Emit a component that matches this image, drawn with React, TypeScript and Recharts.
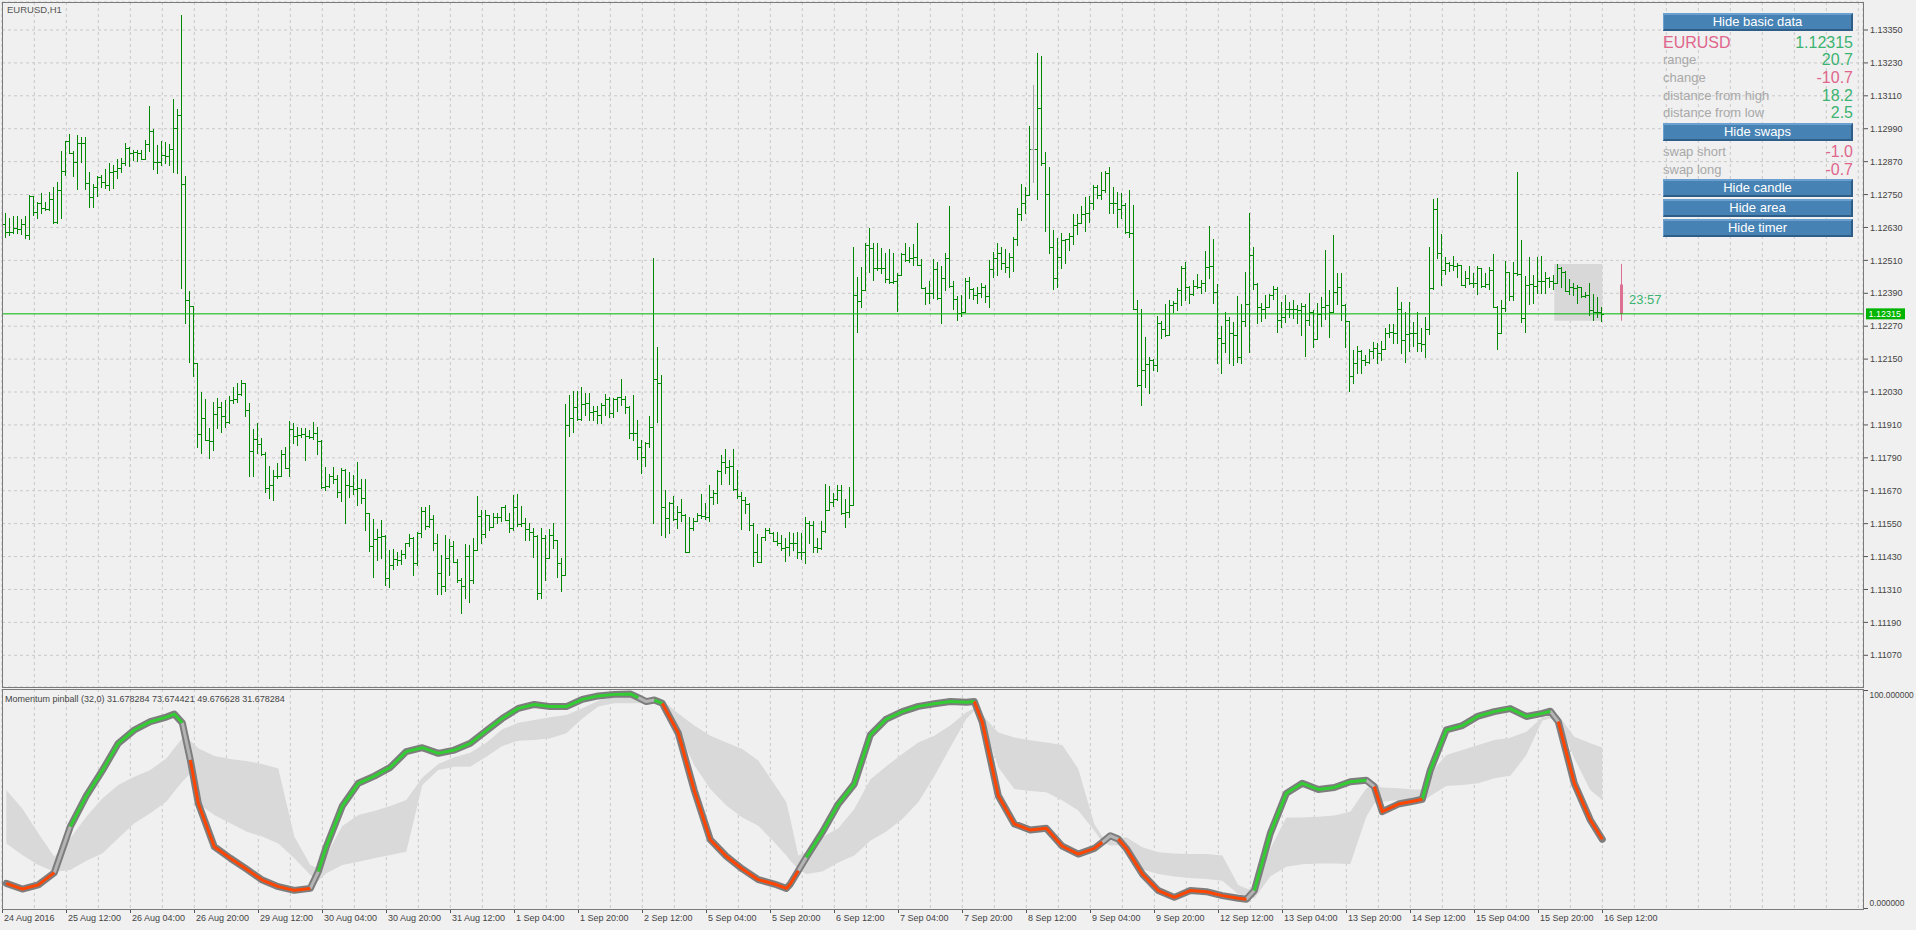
import React from 'react';
import {
  ComposedChart,
  Bar,
  Line,
  Area,
  XAxis,
  YAxis,
  CartesianGrid,
  ReferenceLine,
  ReferenceArea,
} from 'recharts';

// ---------------- DATA ----------------
const symbolTitle = 'EURUSD,H1';
const firstOpen = 1.12642;

const closes = [
  1.12615, 1.12613, 1.12627, 1.12624, 1.12642, 1.12603, 1.12743, 1.12688, 1.12718, 1.127,
  1.12696, 1.12733, 1.1265, 1.12767, 1.12837, 1.12946, 1.12901, 1.1287, 1.12937, 1.12939,
  1.12791, 1.1274, 1.12777, 1.12813, 1.12794, 1.12785, 1.12833, 1.12837, 1.12846, 1.12864,
  1.12919, 1.12903, 1.12906, 1.12901, 1.12879, 1.12933, 1.12982, 1.1287, 1.12867, 1.12895,
  1.12891, 1.12915, 1.12992, 1.1304, 1.12788, 1.12366, 1.12344, 1.12135, 1.11878, 1.11935,
  1.11856, 1.1185, 1.1195, 1.11975, 1.11941, 1.11919, 1.12001, 1.12004, 1.12023, 1.12062,
  1.11965, 1.11816, 1.11858, 1.11841, 1.11805, 1.1168, 1.11691, 1.11722, 1.11725, 1.11805,
  1.11752, 1.11895, 1.11868, 1.11874, 1.11877, 1.1187, 1.11865, 1.1188, 1.11853, 1.11685,
  1.11688, 1.11722, 1.11712, 1.11665, 1.11746, 1.11691, 1.11689, 1.11677, 1.11679, 1.11643,
  1.11588, 1.11469, 1.11493, 1.11503, 1.11506, 1.11351, 1.114, 1.1142, 1.11418, 1.1144,
  1.11479, 1.11497, 1.11406, 1.11515, 1.11597, 1.11542, 1.11566, 1.11479, 1.11369, 1.11323,
  1.11424, 1.11469, 1.11412, 1.11343, 1.11321, 1.11433, 1.11345, 1.11455, 1.11578, 1.11513,
  1.11582, 1.11539, 1.11576, 1.11573, 1.1161, 1.11564, 1.11533, 1.11612, 1.11549, 1.11554,
  1.1153, 1.11518, 1.11506, 1.11296, 1.11497, 1.11424, 1.11509, 1.11491, 1.11406, 1.11363,
  1.1191, 1.11934, 1.11974, 1.11931, 1.11987, 1.11989, 1.11956, 1.11959, 1.11947, 1.11983,
  1.12004, 1.11955, 1.12004, 1.12013, 1.12004, 1.11977, 1.1188, 1.11882, 1.11829, 1.11792,
  1.11843, 1.11901, 1.12076, 1.12062, 1.1161, 1.1157, 1.11624, 1.11566, 1.11594, 1.11582,
  1.11448, 1.11533, 1.11561, 1.11582, 1.11578, 1.11573, 1.11646, 1.11661, 1.11743, 1.11773,
  1.11758, 1.1176, 1.11675, 1.11651, 1.11637, 1.11621, 1.11545, 1.11445, 1.11412, 1.115,
  1.11527, 1.11517, 1.11485, 1.11479, 1.1146, 1.11466, 1.11479, 1.11481, 1.11448, 1.11445,
  1.11554, 1.11545, 1.11466, 1.1146, 1.11525, 1.116, 1.1163, 1.11639, 1.11673, 1.1159,
  1.11594, 1.11618, 1.12384, 1.12363, 1.12402, 1.12566, 1.12554, 1.12481, 1.12483, 1.12481,
  1.12441, 1.12432, 1.12435, 1.12457, 1.12533, 1.12511, 1.12517, 1.12521, 1.12493, 1.12408,
  1.12392, 1.1239, 1.12477, 1.12372, 1.12444, 1.12517, 1.12417, 1.12368, 1.12317, 1.1232,
  1.12436, 1.12405, 1.12384, 1.1239, 1.12414, 1.1238, 1.12478, 1.12518, 1.12536, 1.125,
  1.12485, 1.12521, 1.12587, 1.1268, 1.1272, 1.12749, 1.12915, 1.12915, 1.13064, 1.12866,
  1.12752, 1.12558, 1.12445, 1.12521, 1.12584, 1.12587, 1.12599, 1.12639, 1.12645, 1.12679,
  1.12682, 1.12718, 1.12779, 1.12749, 1.12767, 1.12828, 1.12718, 1.1272, 1.12696, 1.12712,
  1.12615, 1.12609, 1.12332, 1.12056, 1.12111, 1.12132, 1.12147, 1.12129, 1.12281, 1.12259,
  1.12238, 1.12348, 1.12356, 1.12402, 1.12481, 1.12414, 1.12388, 1.12417, 1.12412, 1.12426,
  1.12487, 1.1249, 1.12396, 1.12226, 1.12208, 1.12293, 1.12247, 1.12238, 1.12159, 1.1229,
  1.12351, 1.1253, 1.12424, 1.12341, 1.12332, 1.12341, 1.12384, 1.12405, 1.12293, 1.12305,
  1.12332, 1.12334, 1.12332, 1.12329, 1.12344, 1.12293, 1.1232, 1.12222, 1.12315, 1.12341,
  1.12348, 1.12323, 1.12396, 1.12412, 1.12348, 1.1229, 1.12089, 1.12135, 1.12178, 1.12147,
  1.12141, 1.12178, 1.1219, 1.12172, 1.12186, 1.12247, 1.1225, 1.12244, 1.12332, 1.1222,
  1.12242, 1.12244, 1.12247, 1.1221, 1.12205, 1.12259, 1.12408, 1.12696, 1.12538, 1.12475,
  1.12499, 1.12493, 1.1249, 1.12493, 1.1242, 1.12445, 1.12426, 1.12429, 1.12481, 1.12417,
  1.12424, 1.12475, 1.12339, 1.12244, 1.12335, 1.12469, 1.1238, 1.12465, 1.12461, 1.12299,
  1.1242, 1.12424, 1.12417, 1.12436, 1.12433, 1.12445, 1.12436, 1.12426, 1.12481, 1.12469,
  1.124, 1.12412, 1.1241, 1.12412, 1.1238, 1.12383, 1.12329, 1.1232, 1.12323, 1.12315,
];

const highs = [
  1.12682, 1.12664, 1.1267, 1.12672, 1.1266, 1.12672, 1.12749, 1.12743, 1.12724, 1.12757,
  1.12724, 1.12761, 1.12779, 1.12795, 1.12909, 1.12946, 1.1297, 1.12907, 1.12967, 1.12959,
  1.12961, 1.12834, 1.12788, 1.12816, 1.12822, 1.12842, 1.12864, 1.12858, 1.12879, 1.12882,
  1.12937, 1.12925, 1.12913, 1.12913, 1.12913, 1.12949, 1.13073, 1.12988, 1.12931, 1.12946,
  1.12943, 1.12935, 1.13099, 1.13062, 1.13405, 1.12818, 1.12399, 1.12344, 1.12135, 1.12029,
  1.12005, 1.11898, 1.11995, 1.12008, 1.11995, 1.12001, 1.12014, 1.12048, 1.12062, 1.12074,
  1.12062, 1.11989, 1.11895, 1.11916, 1.11862, 1.1181, 1.11759, 1.11746, 1.11771, 1.11817,
  1.11831, 1.11923, 1.11916, 1.11904, 1.11898, 1.11898, 1.1189, 1.11919, 1.11902, 1.11855,
  1.11758, 1.11731, 1.11758, 1.11728, 1.11752, 1.1175, 1.1174, 1.11728, 1.11773, 1.11712,
  1.11712, 1.11588, 1.11566, 1.1153, 1.11564, 1.11509, 1.11455, 1.11457, 1.11448, 1.11455,
  1.11479, 1.11513, 1.11501, 1.11521, 1.11612, 1.1161, 1.11618, 1.11582, 1.11513, 1.11436,
  1.11509, 1.11493, 1.11485, 1.1142, 1.11351, 1.11476, 1.11473, 1.11497, 1.11651, 1.116,
  1.11598, 1.11582, 1.11588, 1.11588, 1.11612, 1.11618, 1.11588, 1.11655, 1.11659, 1.11615,
  1.1157, 1.11552, 1.11533, 1.11509, 1.11533, 1.11509, 1.1153, 1.11552, 1.11491, 1.11424,
  1.11987, 1.12019, 1.12032, 1.12032, 1.1205, 1.12026, 1.12026, 1.11979, 1.11979, 1.11989,
  1.12023, 1.12013, 1.12007, 1.12013, 1.12077, 1.12016, 1.11979, 1.12019, 1.11928, 1.11855,
  1.11849, 1.11943, 1.12517, 1.12195, 1.12092, 1.11673, 1.1163, 1.11651, 1.11615, 1.11639,
  1.11585, 1.11576, 1.1157, 1.11588, 1.11658, 1.11627, 1.11691, 1.11673, 1.11746, 1.11801,
  1.11821, 1.11782, 1.11821, 1.11746, 1.11667, 1.11649, 1.11624, 1.11551, 1.11513, 1.11503,
  1.11533, 1.11533, 1.11521, 1.11521, 1.11509, 1.11497, 1.11521, 1.11515, 1.11521, 1.11515,
  1.11576, 1.11561, 1.11558, 1.11497, 1.11561, 1.11695, 1.11688, 1.11661, 1.11691, 1.11691,
  1.11639, 1.11683, 1.1256, 1.12451, 1.12487, 1.12574, 1.12627, 1.12572, 1.12574, 1.12554,
  1.12536, 1.1255, 1.12536, 1.12465, 1.12536, 1.12574, 1.1256, 1.1257, 1.12647, 1.12514,
  1.12412, 1.12436, 1.12514, 1.12505, 1.12489, 1.12538, 1.12708, 1.12436, 1.1238, 1.12384,
  1.12445, 1.12448, 1.12408, 1.12414, 1.12426, 1.1242, 1.12512, 1.12542, 1.12575, 1.1256,
  1.1255, 1.12536, 1.12597, 1.127, 1.12789, 1.12779, 1.13, 1.1315, 1.13265, 1.13255,
  1.12906, 1.12849, 1.12621, 1.12591, 1.12611, 1.12587, 1.12611, 1.12679, 1.12679, 1.12708,
  1.1274, 1.12745, 1.12785, 1.12785, 1.12834, 1.12836, 1.12852, 1.12779, 1.12761, 1.12757,
  1.12718, 1.12767, 1.12712, 1.12366, 1.12332, 1.12232, 1.12159, 1.1215, 1.12308, 1.1229,
  1.12351, 1.12366, 1.12363, 1.12408, 1.1249, 1.12505, 1.12417, 1.12439, 1.12461, 1.12439,
  1.12546, 1.12636, 1.12587, 1.12424, 1.12271, 1.12323, 1.12303, 1.12287, 1.1238, 1.12351,
  1.12469, 1.12684, 1.12558, 1.12429, 1.12354, 1.12384, 1.12388, 1.12417, 1.12412, 1.1236,
  1.12384, 1.1236, 1.12366, 1.12348, 1.12354, 1.12351, 1.12392, 1.12329, 1.12356, 1.12378,
  1.12548, 1.12402, 1.12603, 1.12465, 1.12465, 1.12351, 1.12287, 1.12184, 1.12196, 1.12184,
  1.12165, 1.12186, 1.12214, 1.12208, 1.12217, 1.12262, 1.12278, 1.12278, 1.12414, 1.1236,
  1.1232, 1.1236, 1.12287, 1.1232, 1.12262, 1.12305, 1.12558, 1.12733, 1.12736, 1.12606,
  1.12521, 1.12505, 1.12526, 1.12499, 1.12493, 1.12473, 1.1249, 1.12463, 1.1249, 1.12481,
  1.12465, 1.12485, 1.12533, 1.12344, 1.12366, 1.12509, 1.1242, 1.12505, 1.12834, 1.12584,
  1.12453, 1.12521, 1.12457, 1.12521, 1.12526, 1.12469, 1.12451, 1.12457, 1.12497, 1.12487,
  1.12473, 1.12441, 1.12426, 1.1242, 1.12414, 1.12396, 1.12426, 1.12388, 1.12376, 1.12339,
];

const lows = [
  1.12597, 1.12603, 1.12611, 1.12609, 1.12607, 1.12593, 1.12587, 1.12676, 1.12664, 1.12684,
  1.12692, 1.12694, 1.12648, 1.12648, 1.12664, 1.12822, 1.12901, 1.12818, 1.12769, 1.1287,
  1.12769, 1.12706, 1.12706, 1.12745, 1.12779, 1.12773, 1.12767, 1.12773, 1.12809, 1.12834,
  1.12858, 1.12854, 1.12876, 1.12874, 1.12879, 1.12879, 1.12907, 1.12842, 1.12828, 1.12858,
  1.12864, 1.12858, 1.12834, 1.1283, 1.12408, 1.12283, 1.12141, 1.12089, 1.11831, 1.11807,
  1.11856, 1.11789, 1.11819, 1.11898, 1.11886, 1.11902, 1.11916, 1.11989, 1.11995, 1.1202,
  1.11941, 1.11722, 1.11725, 1.11807, 1.11801, 1.11666, 1.11644, 1.11636, 1.11716, 1.11734,
  1.11752, 1.11722, 1.11844, 1.11837, 1.11865, 1.11783, 1.11862, 1.11858, 1.11805, 1.11679,
  1.11673, 1.11683, 1.11698, 1.11646, 1.11634, 1.11552, 1.11649, 1.11659, 1.11619, 1.11625,
  1.11527, 1.11452, 1.11357, 1.11416, 1.11424, 1.11327, 1.11318, 1.11384, 1.114, 1.11403,
  1.11424, 1.11467, 1.11363, 1.114, 1.11503, 1.1153, 1.11537, 1.11455, 1.11294, 1.11294,
  1.11303, 1.11363, 1.11412, 1.11339, 1.11226, 1.11278, 1.11266, 1.11333, 1.11455, 1.11481,
  1.11503, 1.11527, 1.11537, 1.11552, 1.11558, 1.11564, 1.11518, 1.11527, 1.1154, 1.11542,
  1.11489, 1.11491, 1.1143, 1.11275, 1.11278, 1.11345, 1.11448, 1.11461, 1.11357, 1.11303,
  1.11391, 1.1187, 1.11886, 1.11928, 1.11928, 1.11947, 1.11928, 1.11928, 1.11916, 1.11916,
  1.11947, 1.1194, 1.1194, 1.11959, 1.11983, 1.11955, 1.11861, 1.11855, 1.11785, 1.11736,
  1.11762, 1.11831, 1.11551, 1.11922, 1.11509, 1.115, 1.11517, 1.11564, 1.11533, 1.11558,
  1.11448, 1.11517, 1.11527, 1.11561, 1.1157, 1.11566, 1.11558, 1.11622, 1.11624, 1.11695,
  1.11736, 1.11695, 1.11673, 1.11643, 1.1153, 1.1159, 1.11527, 1.11394, 1.11412, 1.11412,
  1.11491, 1.11515, 1.11485, 1.11473, 1.11454, 1.11415, 1.11436, 1.11454, 1.11424, 1.1142,
  1.11406, 1.11479, 1.11448, 1.11446, 1.11457, 1.11521, 1.11606, 1.11615, 1.11636, 1.11585,
  1.11539, 1.11576, 1.11639, 1.1225, 1.12341, 1.12404, 1.12469, 1.12438, 1.12475, 1.12465,
  1.12432, 1.12429, 1.12429, 1.12327, 1.12457, 1.12509, 1.12505, 1.12493, 1.12493, 1.12408,
  1.12351, 1.12356, 1.12372, 1.12368, 1.12283, 1.12402, 1.12414, 1.12331, 1.12293, 1.12308,
  1.12356, 1.12372, 1.12368, 1.12354, 1.12378, 1.1236, 1.12339, 1.12451, 1.12457, 1.12478,
  1.12469, 1.12448, 1.12473, 1.12566, 1.12657, 1.12682, 1.12749, 1.12797, 1.12733, 1.12858,
  1.12618, 1.12536, 1.12405, 1.12412, 1.12481, 1.12499, 1.12548, 1.1257, 1.12606, 1.12645,
  1.12618, 1.12651, 1.12696, 1.12736, 1.12733, 1.12761, 1.12682, 1.12684, 1.12631, 1.12663,
  1.12609, 1.12594, 1.12332, 1.12052, 1.11983, 1.12048, 1.12028, 1.12111, 1.12105, 1.12226,
  1.12234, 1.12281, 1.1232, 1.1233, 1.12348, 1.12366, 1.12354, 1.12384, 1.12408, 1.1239,
  1.124, 1.12445, 1.12354, 1.12137, 1.12101, 1.12177, 1.12137, 1.12129, 1.12141, 1.12135,
  1.12271, 1.12177, 1.12405, 1.12283, 1.1229, 1.12299, 1.12341, 1.12368, 1.1225, 1.12266,
  1.12287, 1.12305, 1.12299, 1.12281, 1.12238, 1.12162, 1.12275, 1.12193, 1.12226, 1.12271,
  1.12295, 1.12232, 1.12354, 1.12351, 1.12293, 1.12193, 1.12035, 1.12062, 1.12101, 1.12099,
  1.12129, 1.12135, 1.12153, 1.12135, 1.12145, 1.1219, 1.1223, 1.12208, 1.1221, 1.12171,
  1.12141, 1.12181, 1.12196, 1.12178, 1.12178, 1.12157, 1.12242, 1.12405, 1.12518, 1.1242,
  1.1246, 1.12473, 1.12475, 1.12451, 1.1242, 1.12414, 1.12424, 1.12414, 1.12388, 1.12414,
  1.12414, 1.12405, 1.12339, 1.12186, 1.12269, 1.12327, 1.12366, 1.12366, 1.12457, 1.12287,
  1.1225, 1.12351, 1.12356, 1.1239, 1.12392, 1.1239, 1.12414, 1.12405, 1.12436, 1.12412,
  1.124, 1.12388, 1.12384, 1.12356, 1.12378, 1.12378, 1.12311, 1.12293, 1.12305, 1.1229,
];

// daily candle (open, high, low, close) and today's first bar
const dayOHLC = [1.12422, 1.12497, 1.1229, 1.12315];
const dayStartBar = 387;
const timerText = '23:57';

const priceTicks = [
  1.1107, 1.1119, 1.1131, 1.1143, 1.1155, 1.1167, 1.1179, 1.1191, 1.1203, 1.1215,
  1.1227, 1.1239, 1.1251, 1.1263, 1.1275, 1.1287, 1.1299, 1.1311, 1.1323, 1.1335,
];

const timeLabels = [
  '24 Aug 2016', '25 Aug 12:00', '26 Aug 04:00', '26 Aug 20:00', '29 Aug 12:00',
  '30 Aug 04:00', '30 Aug 20:00', '31 Aug 12:00', '1 Sep 04:00', '1 Sep 20:00',
  '2 Sep 12:00', '5 Sep 04:00', '5 Sep 20:00', '6 Sep 12:00', '7 Sep 04:00',
  '7 Sep 20:00', '8 Sep 12:00', '9 Sep 04:00', '9 Sep 20:00', '12 Sep 12:00',
  '13 Sep 04:00', '13 Sep 20:00', '14 Sep 12:00', '15 Sep 04:00', '15 Sep 20:00',
  '16 Sep 12:00',
];

// indicator: sampled bar indices, main line, band, trend state per segment
const indBars = [
  0, 4, 8, 12, 16, 20, 24, 28, 32, 36,
  40, 42, 44, 46, 48, 52, 56, 60, 64, 68,
  72, 76, 78, 80, 84, 88, 92, 96, 100, 104,
  108, 112, 116, 120, 124, 128, 132, 136, 140, 144,
  148, 152, 156, 158, 160, 162, 164, 168, 172, 176,
  180, 184, 188, 192, 195, 196, 198, 200, 204, 208,
  212, 216, 220, 224, 228, 232, 236, 240, 242, 244,
  248, 252, 256, 260, 264, 268, 272, 274, 276, 278,
  280, 284, 288, 292, 296, 300, 304, 308, 310, 312,
  316, 320, 324, 328, 332, 336, 340, 342, 344, 348,
  352, 354, 356, 360, 364, 368, 372, 376, 380, 384,
  386, 388, 392, 396, 399,
];

const mainVals = [
  11.5, 8.9, 10.8, 16.4, 37.5, 51.5, 63.1, 75.6, 81.7, 85.5,
  87.6, 89.0, 85.0, 68.0, 48.1, 28.3, 23.0, 18.1, 13.0, 10.0,
  8.3, 9.2, 16.9, 28.3, 46.9, 57.3, 60.6, 64.6, 71.8, 73.6,
  71.0, 72.5, 75.6, 81.4, 87.0, 91.6, 93.4, 92.4, 92.4, 95.7,
  97.3, 98.0, 98.2, 96.5, 94.7, 95.4, 93.9, 80.2, 54.0, 31.5,
  23.9, 18.1, 13.2, 11.2, 9.2, 11.2, 17.3, 23.4, 34.9, 47.8,
  57.0, 79.4, 86.7, 90.1, 92.5, 93.7, 94.7, 94.4, 94.7, 85.2,
  51.6, 38.7, 35.9, 36.7, 28.5, 24.9, 27.5, 30.3, 33.3, 31.8,
  27.5, 15.8, 8.2, 5.1, 8.2, 7.7, 5.9, 4.7, 4.2, 8.2,
  34.4, 52.7, 57.3, 54.5, 55.4, 58.0, 58.7, 55.8, 44.3, 47.8,
  49.2, 50.0, 63.3, 81.7, 83.7, 88.1, 90.1, 91.5, 87.9, 89.3,
  90.3, 85.5, 57.3, 40.5, 31.678284,
];

const bandUpper = [
  54.2, 45.8, 34.4, 23.7, 32.1, 42.0, 50.4, 56.5, 60.3, 63.4,
  68.7, 73.3, 77.9, 76.8, 73.3, 69.8, 68.4, 67.5, 66.1, 64.1,
  32.9, 19.9, 18.4, 24.5, 37.8, 42.8, 44.6, 46.9, 49.7, 60.0,
  66.1, 69.2, 71.3, 75.9, 82.0, 85.0, 86.3, 87.5, 88.6, 91.6,
  95.1, 96.9, 97.3, 97.0, 96.2, 95.7, 95.1, 89.3, 83.7, 79.1,
  76.0, 73.0, 67.7, 57.0, 48.6, 41.0, 24.2, 25.7, 32.6, 36.7,
  45.5, 59.0, 65.1, 70.7, 76.0, 79.1, 83.7, 89.8, 91.6, 88.6,
  80.6, 78.3, 77.0, 76.0, 74.8, 63.9, 38.7, 33.0, 31.0, 32.1,
  32.6, 28.0, 25.7, 25.2, 24.9, 24.9, 24.2, 10.7, 9.2, 8.5,
  27.5, 41.7, 41.7, 42.0, 42.6, 44.3, 55.0, 56.5, 55.4, 55.0,
  54.5, 54.5, 61.9, 70.2, 72.5, 74.8, 77.1, 78.2, 80.9, 87.5,
  88.1, 88.6, 78.6, 75.6, 73.674421,
];

const bandLower = [
  29.8, 24.5, 19.9, 16.8, 17.6, 21.9, 25.2, 32.1, 39.0, 43.6,
  48.9, 53.5, 58.0, 61.9, 48.1, 42.8, 39.0, 35.2, 32.9, 29.8,
  23.0, 15.3, 12.7, 16.1, 19.9, 21.4, 23.0, 24.5, 26.0, 56.5,
  63.4, 64.9, 64.9, 69.5, 74.4, 76.8, 77.1, 77.9, 80.2, 87.0,
  92.4, 93.9, 93.9, 93.9, 93.9, 93.9, 93.9, 80.9, 65.6, 54.7,
  47.1, 41.7, 37.9, 30.3, 24.2, 21.9, 18.1, 15.8, 16.9, 21.1,
  24.2, 31.0, 35.2, 41.0, 48.6, 60.5, 73.8, 86.7, 90.5, 86.4,
  64.6, 54.7, 53.8, 53.2, 49.4, 44.8, 35.6, 30.6, 28.8, 28.9,
  26.5, 17.8, 15.8, 14.7, 14.0, 13.5, 12.7, 6.6, 5.4, 4.6,
  14.6, 19.1, 20.2, 20.6, 20.6, 20.4, 42.0, 48.1, 48.9, 49.7,
  48.9, 48.9, 51.5, 56.1, 56.5, 57.3, 59.6, 60.7, 70.2, 86.0,
  87.0, 86.3, 68.7, 54.2, 49.676628,
];

// 1 = rising (green), -1 = falling (red), 0 = neutral (grey); one per segment
const trend = [
  -1, -1, -1, 0, 1, 1, 1, 1, 1, 1,
  1, 1, 0, -1, -1, -1, -1, -1, -1, -1,
  -1, 0, 1, 1, 1, 1, 1, 1, 1, 1,
  1, 1, 1, 1, 1, 1, 1, 1, 1, 1,
  1, 1, 1, 0, 0, 1, -1, -1, -1, -1,
  -1, -1, -1, -1, -1, -1, 0, 1, 1, 1,
  1, 1, 1, 1, 1, 1, 1, 1, -1, -1,
  -1, -1, -1, -1, -1, -1, -1, 0, 0, -1,
  -1, -1, -1, -1, -1, -1, -1, -1, 0, 1,
  1, 1, 1, 1, 1, 1, 0, -1, -1, -1,
  -1, 1, 1, 1, 1, 1, 1, 1, 1, 1,
  0, -1, -1, -1,
];

const infoLabels = ['range', 'change', 'distance from high', 'distance from low'];
const infoValues = [20.7, -10.7, 18.2, 2.5];
const swapLabels = ['swap short', 'swap long'];
const swapValues = [-1.0, -0.7];

// ---------------- STYLE ----------------
const FONT = "'Liberation Sans', Arial, sans-serif";
const BG = '#f0f0f0';
const GRID = '#c8c8c8';
const BORDER = '#7a7a7a';
const BAR_COLOR = '#008800';
const DOJI_COLOR = '#a8a8a8';
const PINK = '#db7093';
const LINE_GREEN = '#00b400';
const TXT_GREEN = '#3cb371';
const TXT_PINK = '#e0668c';
const BTN = '#4682b4';

const W = 1916;
const AXIS_W = 53;
const X_DOMAIN: [number, number] = [-1.075, 464.175];
const PRICE_DOMAIN: [number, number] = [1.109544, 1.134521];
const IND_DOMAIN: [number, number] = [-0.23, 100.46];

const gridTicks: number[] = [];
for (let t = -1; t <= 463; t += 8) gridTicks.push(t);

// ---------------- DERIVED ROWS ----------------
type Row = { i: number; kind: string; o: number; h: number; l: number; c: number; range: [number, number] };
const mainRows: Row[] = closes.map((c, i) => {
  const o = i === 0 ? firstOpen : closes[i - 1];
  const h = highs[i];
  const l = lows[i];
  return { i, kind: 'bar', o, h, l, c, range: [Math.min(l, o, c), Math.max(h, o, c)] };
});
mainRows.push({
  i: closes.length + 4,
  kind: 'day',
  o: dayOHLC[0],
  h: dayOHLC[1],
  l: dayOHLC[2],
  c: dayOHLC[3],
  range: [dayOHLC[2], dayOHLC[1]],
});
const lastClose = closes[closes.length - 1];

const indRows = indBars.map((i, k) => {
  const v = mainVals[k];
  const has = (s: number) => (k > 0 && trend[k - 1] === s) || (k < trend.length && trend[k] === s);
  return {
    i,
    main: v,
    band: [bandLower[k], bandUpper[k]],
    up: has(1) ? v : null,
    down: has(-1) ? v : null,
    flat: has(0) ? v : null,
  };
});
const lastK = mainVals.length - 1;
const indTitle = `Momentum pinball (32,0) ${mainVals[lastK].toFixed(6)} ${bandUpper[lastK].toFixed(6)} ${bandLower[lastK].toFixed(6)} ${mainVals[lastK].toFixed(6)}`;

// ---------------- SHAPES ----------------
const OhlcShape = (props: any) => {
  const { x, y, width, height, payload } = props;
  if (!payload || !Number.isFinite(y) || !Number.isFinite(height)) return null;
  const top = Math.min(y, y + height);
  const bot = Math.max(y, y + height);
  const hi = payload.range[1];
  const lo = payload.range[0];
  const py = (v: number) => (hi === lo ? top : top + ((hi - v) / (hi - lo)) * (bot - top));
  const n = Math.floor(x + width / 2);
  const cx = n + 0.5;
  if (payload.kind === 'day') {
    const yo = py(payload.o);
    const yc = py(payload.c);
    return (
      <g>
        <line x1={cx} x2={cx} y1={top} y2={bot} stroke={PINK} strokeWidth={1} />
        <rect x={n - 1} y={Math.min(yo, yc)} width={3} height={Math.abs(yc - yo)} fill={PINK} />
        <text x={n + 8} y={(yo + yc) / 2} dy="0.36em" fontSize={13} fontFamily={FONT} fill={TXT_GREEN}>
          {timerText}
        </text>
      </g>
    );
  }
  const color = Math.abs(payload.o - payload.c) < 1e-7 ? DOJI_COLOR : BAR_COLOR;
  const yo = Math.round(py(payload.o)) + 0.5;
  const yc = Math.round(py(payload.c)) + 0.5;
  return (
    <g>
      <line x1={cx} x2={cx} y1={Math.round(top)} y2={Math.round(bot) + 1} stroke={color} strokeWidth={1} />
      <line x1={n - 2} x2={n} y1={yo} y2={yo} stroke={color} strokeWidth={1} />
      <line x1={n + 1} x2={n + 3} y1={yc} y2={yc} stroke={color} strokeWidth={1} />
    </g>
  );
};

const PriceTag = (props: any) => {
  const vb = props.viewBox || {};
  const x = (vb.x ?? 0) + (vb.width ?? 0) + 3;
  const y = vb.y ?? 0;
  return (
    <g>
      <rect x={x} y={y - 5.5} width={39} height={11} fill={LINE_GREEN} />
      <text x={x + 2.5} y={y} dy="0.36em" fontSize={9} fontFamily={FONT} fill="#ffffff">
        {lastClose.toFixed(5)}
      </text>
    </g>
  );
};

const TimeTick = (props: any) => {
  const { x, y, payload } = props;
  const v = payload?.value;
  const k = (v + 1) / 16;
  if (!Number.isInteger(k) || k < 0 || k >= timeLabels.length) return <g />;
  const px = Math.floor(x) + 0.5;
  return (
    <g>
      <line x1={px} x2={px} y1={y} y2={y + 4} stroke="#555" strokeWidth={1} />
      <text x={px + 1.5} y={y + 12} fontSize={9} fontFamily={FONT} fill="#444" textAnchor="start">
        {timeLabels[k]}
      </text>
    </g>
  );
};

const IndTick = (props: any) => {
  const { x, y, payload } = props;
  const v = payload?.value;
  const ty = v >= 50 ? y + 4.5 : y - 5.5;
  return (
    <g>
      <line x1={x} x2={x + 5} y1={Math.round(y) + 0.5} y2={Math.round(y) + 0.5} stroke="#555" strokeWidth={1} />
      <text x={x + 6.5} y={ty} dy="0.36em" fontSize={8.4} fontFamily={FONT} fill="#444" textAnchor="start">
        {Number(v).toFixed(6)}
      </text>
    </g>
  );
};

// ---------------- PANEL ----------------
const Button = ({ top, label }: { top: number; label: string }) => (
  <div
    style={{
      position: 'absolute',
      left: 1663,
      top,
      width: 190,
      height: 18,
      boxSizing: 'border-box',
      background: BTN,
      borderTop: '2px solid #6b9fcf',
      borderLeft: '1px solid #6b9fcf',
      borderBottom: '2px solid #2e5d88',
      borderRight: '2px solid #2e5d88',
      color: '#ffffff',
      fontFamily: FONT,
      fontSize: 13,
      lineHeight: '14px',
      textAlign: 'center',
    }}
  >
    {label}
  </div>
);

const InfoRow = ({ top, label, value }: { top: number; label: string; value: string }) => {
  const neg = value.trim().startsWith('-');
  return (
    <div style={{ position: 'absolute', left: 1663, top, width: 190, height: 18, fontFamily: FONT }}>
      <span style={{ position: 'absolute', left: 0, top: 0, lineHeight: '18px', fontSize: 13, color: '#a8a8a8' }}>
        {label}
      </span>
      <span
        style={{
          position: 'absolute',
          right: 0,
          top: 0,
          lineHeight: '18px',
          fontSize: 16,
          color: neg ? TXT_PINK : TXT_GREEN,
        }}
      >
        {value}
      </span>
    </div>
  );
};

// ---------------- APP ----------------
export default function App() {
  return (
    <div
      style={{
        position: 'absolute',
        left: 0,
        top: 0,
        width: W,
        height: 930,
        background: BG,
        overflow: 'hidden',
      }}
    >
      {/* main price pane */}
      <div style={{ position: 'absolute', left: 0, top: 0 }}>
        <ComposedChart width={W} height={688} data={mainRows} margin={{ top: 2, right: 0, bottom: 1, left: 2 }}>
          <CartesianGrid stroke={GRID} strokeDasharray="3 3" />
          <XAxis
            type="number"
            dataKey="i"
            domain={X_DOMAIN}
            allowDataOverflow
            ticks={gridTicks}
            interval={0}
            hide
          />
          <YAxis
            orientation="right"
            width={AXIS_W}
            domain={PRICE_DOMAIN}
            allowDataOverflow
            ticks={priceTicks}
            interval={0}
            axisLine={false}
            tickSize={5}
            tickMargin={2}
            tickLine={{ stroke: '#555' }}
            tick={{ fontSize: 9, fill: '#444', fontFamily: FONT }}
            tickFormatter={(v: number) => v.toFixed(5)}
          />
          <ReferenceArea
            x1={dayStartBar}
            x2={closes.length - 1}
            y1={dayOHLC[2]}
            y2={dayOHLC[1]}
            fill="#d8d8d8"
            fillOpacity={1}
            stroke="none"
          />
          <ReferenceLine y={lastClose} stroke={LINE_GREEN} strokeWidth={1} label={(p: any) => <PriceTag {...p} />} />
          <Bar dataKey="range" barSize={1} isAnimationActive={false} shape={(p: any) => <OhlcShape {...p} />} />
        </ComposedChart>
      </div>

      {/* indicator pane */}
      <div style={{ position: 'absolute', left: 0, top: 688 }}>
        <ComposedChart width={W} height={242} data={indRows} margin={{ top: 1, right: 0, bottom: 0, left: 2 }}>
          <CartesianGrid stroke={GRID} strokeDasharray="3 3" horizontal={false} />
          <XAxis
            type="number"
            dataKey="i"
            domain={X_DOMAIN}
            allowDataOverflow
            ticks={gridTicks}
            interval={0}
            height={21}
            axisLine={false}
            tickLine={false}
            tickSize={0}
            tickMargin={0}
            tick={(p: any) => <TimeTick {...p} />}
          />
          <YAxis
            orientation="right"
            width={AXIS_W}
            domain={IND_DOMAIN}
            allowDataOverflow
            ticks={[0, 100]}
            interval={0}
            axisLine={false}
            tickLine={false}
            tickSize={0}
            tickMargin={0}
            tick={(p: any) => <IndTick {...p} />}
          />
          <Area
            type="linear"
            dataKey="band"
            fill="#d9d9d9"
            fillOpacity={1}
            stroke="none"
            isAnimationActive={false}
            activeDot={false}
            dot={false}
          />
          <Line
            type="linear"
            dataKey="main"
            stroke="#7d7d7d"
            strokeWidth={7}
            strokeLinejoin="round"
            strokeLinecap="round"
            dot={false}
            activeDot={false}
            isAnimationActive={false}
          />
          <Line
            type="linear"
            dataKey="flat"
            stroke="#b4b4b4"
            strokeWidth={3}
            strokeLinejoin="round"
            dot={false}
            activeDot={false}
            connectNulls={false}
            isAnimationActive={false}
          />
          <Line
            type="linear"
            dataKey="up"
            stroke="#32cd32"
            strokeWidth={3}
            strokeLinejoin="round"
            dot={false}
            activeDot={false}
            connectNulls={false}
            isAnimationActive={false}
          />
          <Line
            type="linear"
            dataKey="down"
            stroke="#ff4500"
            strokeWidth={3}
            strokeLinejoin="round"
            dot={false}
            activeDot={false}
            connectNulls={false}
            isAnimationActive={false}
          />
        </ComposedChart>
      </div>

      {/* pane borders */}
      <div
        style={{
          position: 'absolute',
          left: 2,
          top: 2,
          width: 1862,
          height: 686,
          boxSizing: 'border-box',
          border: `1px solid ${BORDER}`,
          pointerEvents: 'none',
        }}
      />
      <div
        style={{
          position: 'absolute',
          left: 2,
          top: 689,
          width: 1862,
          height: 221,
          boxSizing: 'border-box',
          border: `1px solid ${BORDER}`,
          pointerEvents: 'none',
        }}
      />

      {/* titles */}
      <div
        style={{
          position: 'absolute',
          left: 7,
          top: 4,
          fontFamily: FONT,
          fontSize: 9.5,
          color: '#555',
          lineHeight: '12px',
        }}
      >
        {symbolTitle}
      </div>
      <div
        style={{
          position: 'absolute',
          left: 5,
          top: 693,
          fontFamily: FONT,
          fontSize: 9,
          color: '#444',
          lineHeight: '12px',
          whiteSpace: 'nowrap',
        }}
      >
        {indTitle}
      </div>

      {/* info panel */}
      <Button top={13} label="Hide basic data" />
      <div style={{ position: 'absolute', left: 1663, top: 32, width: 190, height: 22, fontFamily: FONT }}>
        <span style={{ position: 'absolute', left: 0, top: 0, lineHeight: '22px', fontSize: 16, color: TXT_PINK }}>
          EURUSD
        </span>
        <span style={{ position: 'absolute', right: 0, top: 0, lineHeight: '22px', fontSize: 16, color: TXT_GREEN }}>
          {lastClose.toFixed(5)}
        </span>
      </div>
      {infoLabels.map((lab, k) => (
        <InfoRow key={lab} top={[51, 69, 87, 104][k]} label={lab} value={infoValues[k].toFixed(1)} />
      ))}
      <Button top={123} label="Hide swaps" />
      {swapLabels.map((lab, k) => (
        <InfoRow key={lab} top={[143, 161][k]} label={lab} value={swapValues[k].toFixed(1)} />
      ))}
      <Button top={179} label="Hide candle" />
      <Button top={199} label="Hide area" />
      <Button top={219} label="Hide timer" />
    </div>
  );
}
